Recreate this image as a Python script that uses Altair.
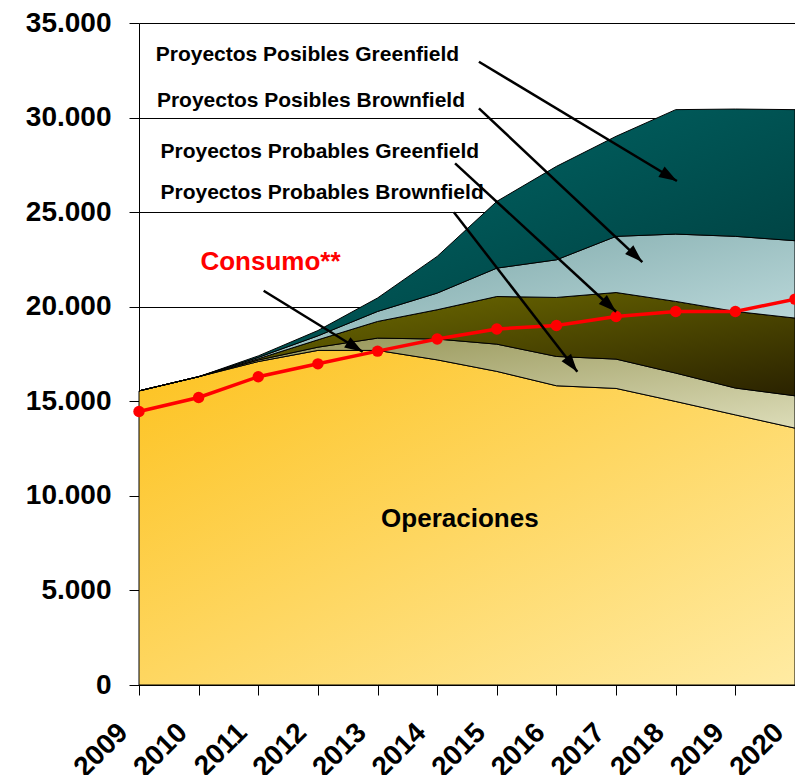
import math
import altair as alt
import pandas as pd

# ---------------- data ----------------
years = [2009, 2010, 2011, 2012, 2013, 2014, 2015, 2016, 2017, 2018, 2019, 2020]
operaciones = [15550, 16300, 17100, 17690, 17690, 17190, 16580, 15820, 15680, 14990, 14280, 13580]
prob_brownfield = [0, 0, 80, 170, 650, 1100, 1440, 1550, 1550, 1500, 1420, 1710]
prob_greenfield = [0, 0, 70, 390, 880, 1550, 2520, 3120, 3520, 3790, 4050, 4110]
pos_brownfield = [0, 0, 70, 210, 530, 880, 1500, 1990, 2970, 3560, 3970, 4090]
pos_greenfield = [0, 0, 80, 280, 710, 1940, 3530, 4940, 5290, 6580, 6730, 6930]
consumo = [14460, 15200, 16300, 16980, 17650, 18290, 18820, 19010, 19480, 19750, 19750, 20400]

y_ticks = [0, 5000, 10000, 15000, 20000, 25000, 30000, 35000]

# annotation labels: text, x (year), y (value)
ann_labels = ["Proyectos Posibles Greenfield", "Proyectos Posibles Brownfield",
              "Proyectos Probables Greenfield", "Proyectos Probables Brownfield"]
ann_x = [2009.28, 2009.30, 2009.36, 2009.36]
ann_y = [33310, 30875, 28195, 26000]

# arrows: start (x, y) -> tip (x, y)
arrow_x1 = [2014.70, 2014.70, 2014.30, 2014.28, 2011.09]
arrow_y1 = [32950, 30490, 27580, 25000, 20845]
arrow_x2 = [2018.02, 2017.44, 2017.00, 2016.35, 2012.75]
arrow_y2 = [26645, 22360, 19735, 16560, 17620]

W, H = 656, 662
FONT = "Liberation Sans"

# ---------------- frames ----------------
c0 = [0] * len(years)
c1 = operaciones
c2 = [a + b for a, b in zip(c1, prob_brownfield)]
c3 = [a + b for a, b in zip(c2, prob_greenfield)]
c4 = [a + b for a, b in zip(c3, pos_brownfield)]
c5 = [a + b for a, b in zip(c4, pos_greenfield)]
df = pd.DataFrame({"year": years, "c0": c0, "c1": c1, "c2": c2, "c3": c3,
                   "c4": c4, "c5": c5, "consumo": consumo})

px_per_year = W / 11.0
px_per_unit = H / 35000.0
angles = []
for xa, ya, xb, yb in zip(arrow_x1, arrow_y1, arrow_x2, arrow_y2):
    dx = (xb - xa) * px_per_year
    dy = -(yb - ya) * px_per_unit
    angles.append(math.degrees(math.atan2(dx, -dy)) % 360)
arrows = pd.DataFrame({"x1": arrow_x1, "y1": arrow_y1, "x2": arrow_x2,
                       "y2": arrow_y2, "angle": angles})
ann = pd.DataFrame({"t": ann_labels, "x": ann_x, "y": ann_y})

xscale = alt.Scale(domain=[2009, 2020], nice=False, zero=False)
yscale = alt.Scale(domain=[0, 35000], nice=False)

xaxis = alt.Axis(values=years, format="d", title=None, grid=False,
                 labelAngle=-45, labelAlign="right", labelBaseline="middle",
                 labelOffset=-16, labelPadding=33, tickSize=10,
                 labelFontSize=28, labelFont=FONT, labelFontWeight="bold",
                 labelColor="black", tickColor="black", domainColor="black",
                 labelOverlap=False, labelBound=False, labelFlush=False)
yaxis = alt.Axis(values=y_ticks, title=None, grid=True, gridColor="black", gridWidth=1,
                 gridOpacity=1,
                 labelExpr="replace(format(datum.value, ','), ',', '.')",
                 tickSize=10, labelPadding=18, labelFontSize=28, labelFont=FONT,
                 labelFontWeight="bold", labelColor="black", tickColor="black",
                 domainColor="black")


def X(field):
    return alt.X(f"{field}:Q", scale=xscale, axis=xaxis)


def Y(field):
    return alt.Y(f"{field}:Q", scale=yscale, axis=yaxis)


def grad(c_start, c_end):
    return alt.Gradient(gradient="linear",
                        stops=[alt.GradientStop(color=c_start, offset=0),
                               alt.GradientStop(color=c_end, offset=1)],
                        x1=0, y1=0, x2=1, y2=1)


def area(top, bottom, g):
    return alt.Chart(df).mark_area(color=g, stroke="black", strokeWidth=1,
                                   opacity=1).encode(x=X("year"), y=Y(top), y2=f"{bottom}:Q")


base = alt.Chart(df)
a1 = area("c1", "c0", grad("#FDC21F", "#FFEBA3"))
a2 = area("c2", "c1", grad("#8F8E4E", "#DCDCB8"))
a3 = area("c3", "c2", grad("#777500", "#2A2200"))
a4 = area("c4", "c3", grad("#6E9C9D", "#CFE8EA"))
a5 = area("c5", "c4", grad("#007070", "#003535"))

line = base.mark_line(color="#FF0000", strokeWidth=3.5).encode(x=X("year"), y=Y("consumo"))
pts = base.mark_circle(color="#FF0000", size=130, opacity=1).encode(x=X("year"), y=Y("consumo"))

ax = alt.Chart(arrows)
rules = ax.mark_rule(color="black", strokeWidth=2.5).encode(
    x=X("x1"), y=Y("y1"), x2="x2:Q", y2="y2:Q")
heads = ax.mark_point(shape="M0,0L-0.8,2.4L0.8,2.4Z", filled=True, color="black",
                      size=225, opacity=1, strokeWidth=0).encode(
    x=X("x2"), y=Y("y2"), angle=alt.Angle("angle:Q", scale=None))

texts = alt.Chart(ann).mark_text(align="left", baseline="middle", fontSize=21,
                                 fontWeight="bold", font=FONT, color="black").encode(
    x=X("x"), y=Y("y"), text="t:N")

cons_txt = alt.Chart(pd.DataFrame({"t": ["Consumo**"], "x": [2010.03], "y": [22365]})).mark_text(
    align="left", baseline="middle", fontSize=26, fontWeight="bold", font=FONT,
    color="#FF0000").encode(x=X("x"), y=Y("y"), text="t:N")
ops_txt = alt.Chart(pd.DataFrame({"t": ["Operaciones"], "x": [2013.06], "y": [8776]})).mark_text(
    align="left", baseline="middle", fontSize=26, fontWeight="bold", font=FONT,
    color="black").encode(x=X("x"), y=Y("y"), text="t:N")

chart = alt.layer(a1, a2, a3, a4, a5, line, pts, rules, heads, texts, cons_txt, ops_txt).properties(
    width=W, height=H,
    autosize=alt.AutoSizeParams(type="none"),
    padding={"left": 131, "top": 15, "right": 0, "bottom": 90},
).configure_view(stroke=None).configure(background="white")

chart.save("out.html", embed_options={"renderer": "svg", "actions": False})
